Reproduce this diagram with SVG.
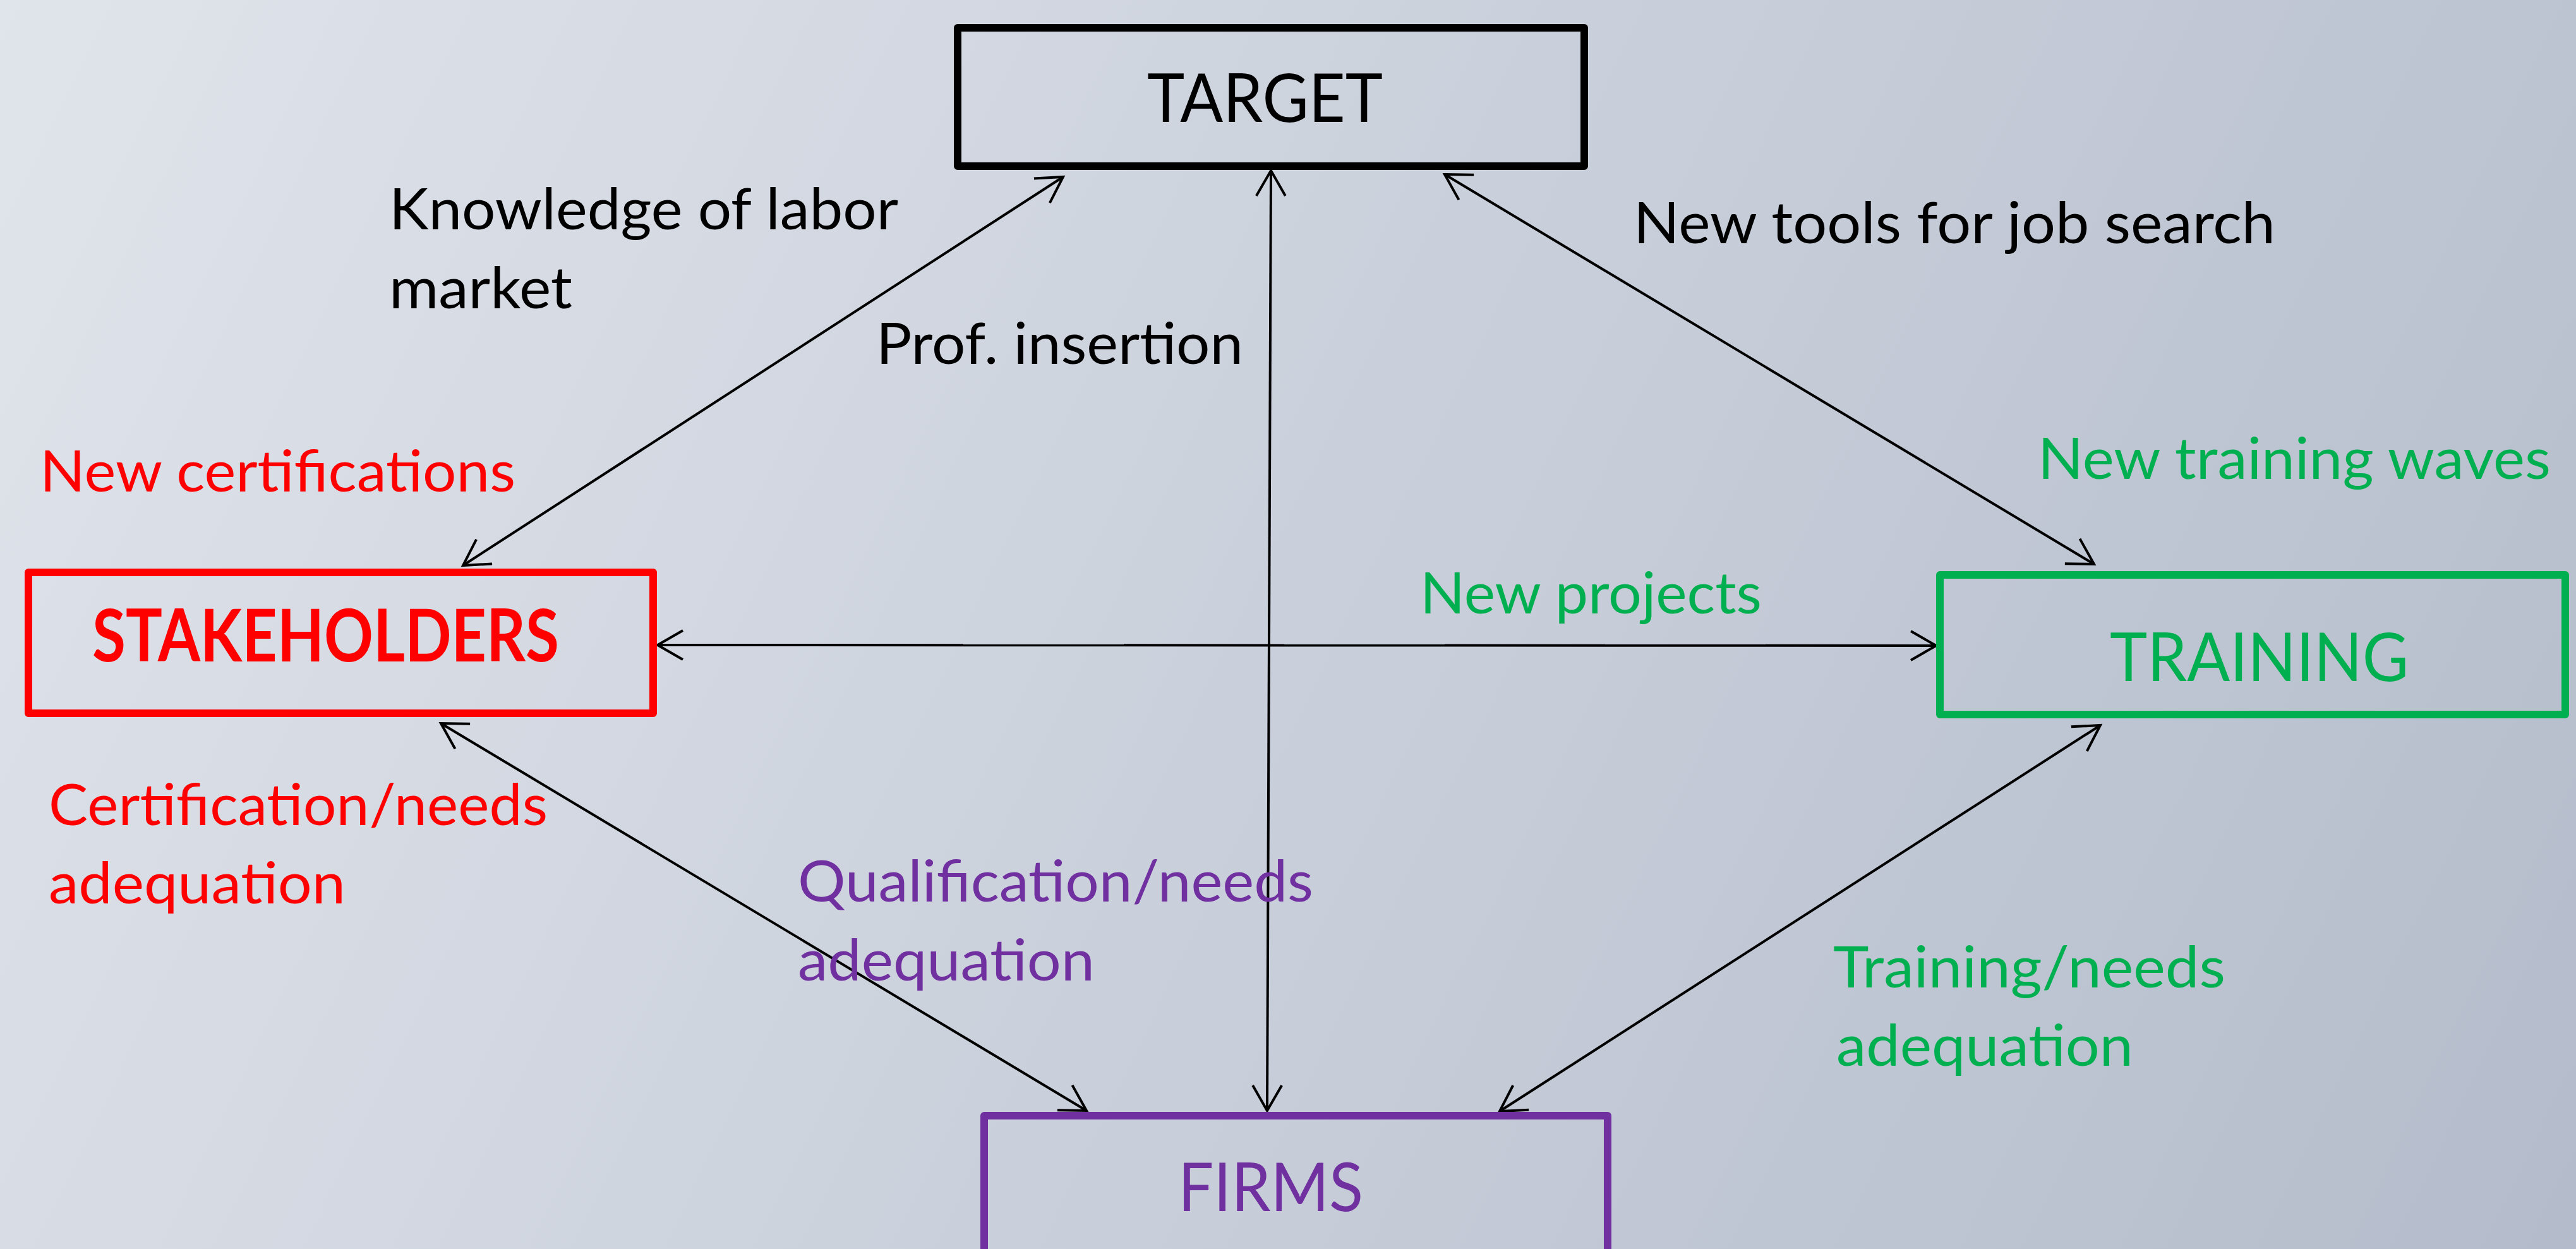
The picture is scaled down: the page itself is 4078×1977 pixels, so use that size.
<svg xmlns="http://www.w3.org/2000/svg" width="4078" height="1977" viewBox="0 0 4078 1977">
  <defs>
    <linearGradient id="bg" x1="0" y1="0" x2="4078" y2="1977" gradientUnits="userSpaceOnUse">
      <stop offset="0" stop-color="#e0e4eb"/>
      <stop offset="1" stop-color="#b4bccb"/>
    </linearGradient>
    <marker id="arr" markerUnits="userSpaceOnUse" markerWidth="70" markerHeight="70" viewBox="-55 -35 70 70" refX="0" refY="0" orient="auto-start-reverse">
      <path d="M-40,-23 L0,0 L-40,23" fill="none" stroke="#000" stroke-width="4" stroke-linejoin="miter"/>
    </marker>
    <style>
      .box { fill: none; stroke-width: 12; stroke-linejoin: round; }
      .conn { stroke: #000; stroke-width: 4; fill: none; marker-start: url(#arr); marker-end: url(#arr); }
      .node-label { font-family: "Lato", "Open Sans", "Liberation Sans", sans-serif; font-size: 106px; }
      .lbl { font-family: "Lato", "Open Sans", "Liberation Sans", sans-serif; font-size: 91px; }
      .red { fill: #ff0000; }
      .green { fill: #00b050; }
      .purple { fill: #7030a0; }
      .black { fill: #000000; }
    </style>
  </defs>

  <rect x="0" y="0" width="4078" height="1977" fill="url(#bg)"/>

  <g id="connectors">
    <line class="conn" x1="1683" y1="280" x2="733" y2="895"/>
    <line class="conn" x1="2012" y1="270" x2="2006" y2="1758"/>
    <line class="conn" x1="2287" y1="276" x2="3315" y2="893"/>
    <line class="conn" x1="1041" y1="1021" x2="3065" y2="1022"/>
    <line class="conn" x1="698" y1="1145" x2="1720" y2="1758"/>
    <line class="conn" x1="3325" y1="1148" x2="2374" y2="1759"/>
  </g>

  <g id="node-target">
    <rect class="box" x="1516" y="44" width="992" height="219" stroke="#000000"/>
    <text class="node-label black" x="1816" y="193" textLength="373" lengthAdjust="spacingAndGlyphs">TARGET</text>
  </g>

  <g id="node-stakeholders">
    <rect class="box" x="45" y="906" width="989" height="223" stroke="#ff0000"/>
    <text class="node-label red" x="146" y="1047" font-weight="bold" style="font-size:114px" textLength="739" lengthAdjust="spacingAndGlyphs">STAKEHOLDERS</text>
  </g>

  <g id="node-training">
    <rect class="box" x="3071" y="910" width="990" height="221" stroke="#00b050"/>
    <text class="node-label green" x="3340" y="1078" textLength="473" lengthAdjust="spacingAndGlyphs">TRAINING</text>
  </g>

  <g id="node-firms">
    <rect class="box" x="1558" y="1766" width="987" height="232" stroke="#7030a0"/>
    <text class="node-label purple" x="1865" y="1917" textLength="293" lengthAdjust="spacingAndGlyphs">FIRMS</text>
  </g>

  <g id="labels">
    <text class="lbl black" x="616" y="363" textLength="806" lengthAdjust="spacingAndGlyphs">Knowledge of labor</text>
    <text class="lbl black" x="616" y="488" textLength="290" lengthAdjust="spacingAndGlyphs">market</text>
    <text class="lbl black" x="1387" y="576" textLength="581" lengthAdjust="spacingAndGlyphs">Prof. insertion</text>
    <text class="lbl black" x="2586" y="385" textLength="1016" lengthAdjust="spacingAndGlyphs">New tools for job search</text>
    <text class="lbl red" x="63" y="778" textLength="753" lengthAdjust="spacingAndGlyphs">New certifications</text>
    <text class="lbl green" x="3226" y="758" textLength="812" lengthAdjust="spacingAndGlyphs">New training waves</text>
    <text class="lbl green" x="2248" y="971" textLength="541" lengthAdjust="spacingAndGlyphs">New projects</text>
    <text class="lbl red" x="77" y="1306" textLength="790" lengthAdjust="spacingAndGlyphs">Certification/needs</text>
    <text class="lbl red" x="77" y="1430" textLength="470" lengthAdjust="spacingAndGlyphs">adequation</text>
    <text class="lbl purple" x="1263" y="1427" textLength="816" lengthAdjust="spacingAndGlyphs">Qualification/needs</text>
    <text class="lbl purple" x="1263" y="1552" textLength="470" lengthAdjust="spacingAndGlyphs">adequation</text>
    <text class="lbl green" x="2902" y="1563" textLength="621" lengthAdjust="spacingAndGlyphs">Training/needs</text>
    <text class="lbl green" x="2907" y="1687" textLength="470" lengthAdjust="spacingAndGlyphs">adequation</text>
  </g>
</svg>
